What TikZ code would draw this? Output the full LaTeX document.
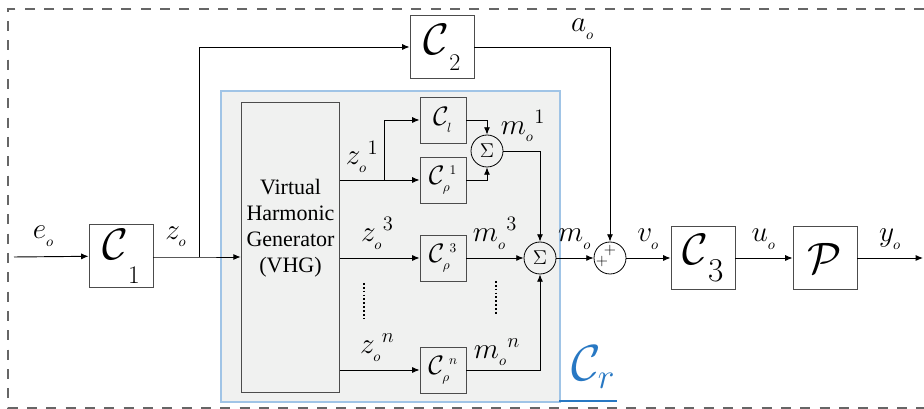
\RequirePackage{fix-cm}
\documentclass[tikz,border=0pt]{standalone}
\usepackage{amsmath}
\usepackage{amssymb}
\usepackage{fontspec}
\newfontfamily\vhgfont{Liberation Serif}
\usetikzlibrary{shapes,arrows.meta,positioning}
\definecolor{crblue}{RGB}{40,120,195}
\definecolor{crframe}{RGB}{160,196,230}
\definecolor{crfill}{RGB}{240,241,240}
% controller symbol with its index dropped to the lower right corner
\newcommand{\ctrlsym}[3]{$\mathcal{C}$\raisebox{-#1}{\fontsize{#2}{#2}\selectfont #3}}
\begin{document}
\begin{tikzpicture}[x=0.75pt,y=-0.75pt,every node/.style={font=\fontsize{22}{26}\selectfont}]
  \tikzstyle{block} = [rectangle, draw=black!70, fill=white, line width=0.7pt,
      minimum width=48pt, minimum height=47pt, inner sep=0pt,
      font=\fontsize{33}{36}\selectfont]
  \tikzstyle{smallblock} = [block, fill=none, minimum width=34.5pt,
      minimum height=34.5pt, font=\fontsize{20}{24}\selectfont]
  \tikzstyle{sumnode} = [circle, draw, line width=0.6pt, minimum size=24pt,
      inner sep=0pt, font=\fontsize{15}{18}\selectfont]
  \tikzstyle{plus} = [font=\fontsize{12}{12}\selectfont, inner sep=0pt]
  \tikzstyle{arrow} = [-{Latex[length=5.5pt,width=4.5pt]}, line width=0.7pt]
  \tikzstyle{wire} = [line width=0.7pt]

  \useasboundingbox (0,0) rectangle (924,409);

  % outer dashed frame, open on the right
  \draw[black!60, line width=0.8pt, dash pattern=on 7.5pt off 7pt]
      (924,9) -- (8,9) -- (8,408) -- (924,408);

  % repetitive controller area C_r
  \draw[crframe, fill=crfill, line width=0.8pt] (221,91) rectangle (560,402);
  \node (crlabel) [text=crblue, anchor=base west, inner sep=0pt,
      font=\fontsize{38}{42}\selectfont] at (571,381) {$\mathcal{C}_{r}$};
  \draw[crblue, line width=1.1pt] (559,401) -- (617,401);

  % main path blocks
  \coordinate (in) at (14,257);
  \node (c1) [block] at (121,256) {\ctrlsym{18pt}{19}{1}};
  \node (c2) [block] at (442,47)  {\ctrlsym{12pt}{18}{2}};
  \node (c3) [block] at (703,258) {\ctrlsym{13pt}{25}{3}};
  \node (plant) [block] at (825,258) {$\mathcal{P}$};
  \coordinate (out) at (923,258);

  % harmonic generator and its branches
  \node (vhg) [rectangle, draw=black!70, line width=0.7pt, minimum width=74pt,
      minimum height=217pt, inner sep=0pt] at (290.5,247.5) {};
  \node (vhgtext) [align=center, font=\vhgfont\fontsize{16.5}{19.4}\selectfont]
      at (290.5,228) {Virtual\\Harmonic\\Generator\\(VHG)};
  \node (cl)   [smallblock] at (443,120) {$\mathcal{C}_{_l}$};
  \node (cr1)  [smallblock] at (443,180)
      {$\mathcal{C}_{\scriptscriptstyle\rho}^{\;\scriptscriptstyle 1}$};
  \node (cr3)  [smallblock] at (443,258)
      {$\mathcal{C}_{\scriptscriptstyle\rho}^{\;\scriptscriptstyle 3}$};
  \node (crn)  [smallblock] at (443,370)
      {$\mathcal{C}_{\scriptscriptstyle\rho}^{\;\scriptscriptstyle n}$};
  \node (sum1) [sumnode] at (487,151) {$\Sigma$};
  \node (sum)  [sumnode] at (540,258) {$\Sigma$};
  \node (add)  [sumnode] at (610,258) {};
  \node (plustop)  [plus] at (610,251) {$+$};
  \node (plusleft) [plus] at (602,262) {$+$};

  % junction points
  \coordinate (jz) at (199,257);
  \coordinate (j1) at (384,180);

  % connectors
  \draw[arrow] (in) -- node[pos=0.4, above=4pt] {$e_{_o}$} (c1);
  \draw[arrow] (c1.east |- jz) -- node[above=4pt] {$z_{_o}$} (jz) -- (vhg.west |- jz);
  \draw[arrow] (jz) |- (c2.west);
  \draw[wire] (vhg.east |- j1) -- node[above=2pt] {$z_{_o}{}^{1}$} (j1);
  \draw[arrow] (j1) |- (cl.west);
  \draw[arrow] (j1) -- (cr1.west);
  \draw[arrow] (cl.east) -| (sum1.north);
  \draw[arrow] (cr1.east) -| (sum1.south);
  \draw[arrow] (sum1.east) -| (sum.north);
  \node (m1) at (523,126) {$m_{_o}{}^{1}$};
  \draw[arrow] (vhg.east |- cr3) -- node[above=3pt, xshift=-2pt] {$z_{_o}{}^{3}$} (cr3.west);
  \draw[arrow] (cr3.east) -- node[above=3pt] {$m_{_o}{}^{3}$} (sum.west);
  \draw[arrow] (vhg.east |- crn) -- node[above=3pt, xshift=-2pt] {$z_{_o}{}^{n}$} (crn.west);
  \draw[arrow] (crn.east) -| (sum.south);
  \node (mn) at (497,352) {$m_{_o}{}^{n}$};
  \draw[line width=1.6pt, dash pattern=on 1.3pt off 1.6pt] (364,283) -- (364,318);
  \draw[line width=1.6pt, dash pattern=on 1.3pt off 1.6pt] (496,281) -- (496,315);

  \draw[arrow] (sum.east) -- node[above=3pt] {$m_{_o}$} (add.west);
  \draw[arrow] (c2.east) -| node[pos=0.4, above=2pt] {$a_{_o}$} (add.north);
  \draw[arrow] (add.east) -- node[above=3pt] {$v_{_o}$} (c3.west);
  \draw[arrow] (c3.east) -- node[above=3pt] {$u_{_o}$} (plant.west);
  \draw[arrow] (plant.east) -- node[above=3pt] {$y_{_o}$} (out);
\end{tikzpicture}
\end{document}
